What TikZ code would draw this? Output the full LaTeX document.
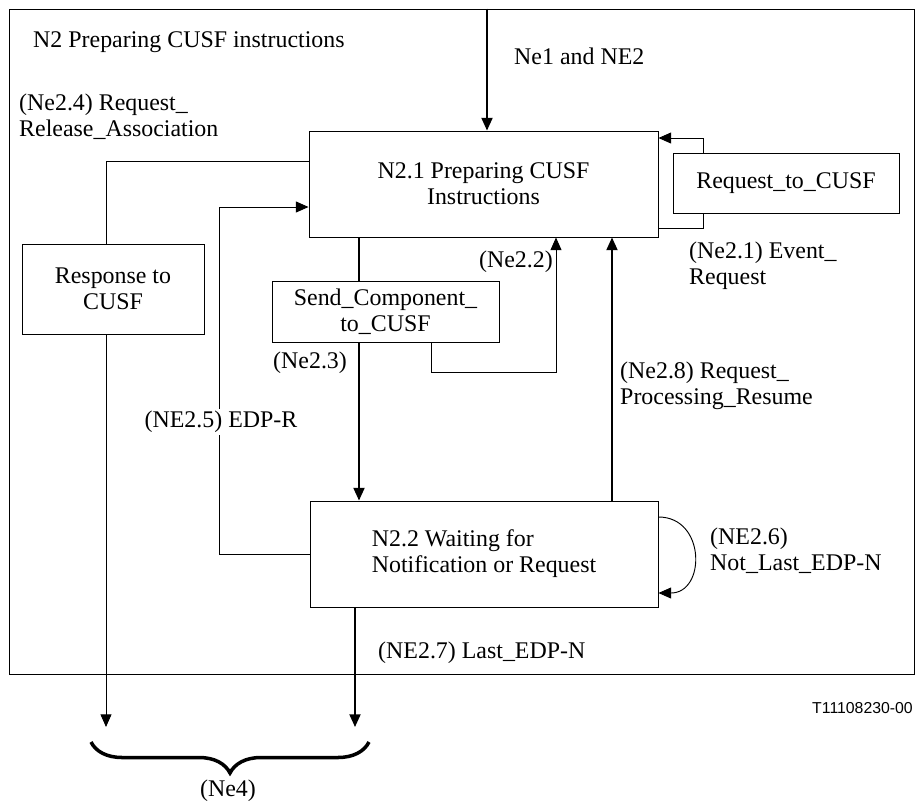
\documentclass[tikz,border=0pt]{standalone}
\usepackage{fontspec}
\setmainfont{Liberation Serif}
\setsansfont{Liberation Sans}
\usetikzlibrary{arrows.meta,decorations.pathreplacing}

\tikzset{
  box/.style={draw, line width=0.8pt, align=center, inner sep=0pt},
  lbl/.style={inner sep=0pt, align=left, anchor=west},
  thinline/.style={line width=0.8pt},
  thickline/.style={line width=1.6pt},
  tip/.style={-{Triangle[length=0.38cm,width=0.33cm]}}
}

\begin{document}
\begin{tikzpicture}[x=0.03cm, y=-0.03cm, font=\fontsize{20.4}{22.1}\selectfont]

\useasboundingbox (0,0) rectangle (918,805);

\node[box, minimum width=27.15cm, minimum height=19.95cm] (frame) at (461.5,341.5) {};

\node[box, minimum width=10.47cm, minimum height=3.18cm] (prep) at (483.5,184) {N2.1 Preparing CUSF\\Instructions};
\node[box, minimum width=6.78cm, minimum height=1.8cm] (reqc) at (786,183) {Request\_to\_CUSF};
\node[box, minimum width=5.46cm, minimum height=2.7cm] (resp) at (113,289) {Response to\\CUSF};
\node[box, minimum width=6.81cm, minimum height=1.83cm] (send) at (385.5,311.5) {Send\_Component\_\\to\_CUSF};
\node[box, minimum width=10.44cm, minimum height=3.18cm, align=left] (wait) at (484,554) {N2.2 Waiting for\\Notification or Request};

\coordinate (in) at (487,9);
\coordinate (r) at (106,161);
\coordinate (e5) at (219,207);
\coordinate (c) at (359,499);
\coordinate (s22) at (431,372);
\coordinate (n22) at (556,372);
\coordinate (n28) at (612,0);
\coordinate (ev) at (703,228);
\coordinate (eu) at (703,138);
\coordinate (outL) at (106,727);
\coordinate (outR) at (355,727);
\coordinate (bl) at (91,742);
\coordinate (br) at (369,742);

\draw[thickline, tip] (frame.north -| in) -- (prep.north -| in);
\draw[thinline] (resp.north -| r) |- (prep.west |- r);
\draw[thinline, tip] (resp.south -| r) -- (outL);
\draw[thinline, tip] (wait.west) -| (e5) -- (prep.west |- e5);
\draw[thickline] (prep.south -| c) -- (send.north -| c);
\draw[thickline, tip] (send.south -| c) -- (wait.north -| c);
\draw[thinline, tip] (send.south -| s22) |- (n22) -- (prep.south -| n22);
\draw[thickline, tip] (wait.north -| n28) -- (prep.south -| n28);
\draw[thinline] (prep.east |- ev) -- (ev) -- (reqc.south -| ev);
\draw[thinline, tip] (reqc.north -| eu) -- (eu) -- (prep.east |- eu);
\draw[thinline, tip] ([yshift=1.11cm]wait.east) to[out=0, in=0, looseness=1.6] ([yshift=-1.17cm]wait.east);
\draw[thickline, tip] (wait.south -| outR) -- (outR);
\draw[line width=3pt, decorate, decoration={brace, mirror, amplitude=0.93cm}] (bl) -- (br);

\node[lbl] (title) at (33,42) {N2 Preparing CUSF instructions};
\node[lbl] (ne1) at (514,56) {Ne1 and NE2};
\node[lbl] (ne24) at (19,116.5) {(Ne2.4) Request\_\\Release\_Association};
\node[lbl, anchor=east] (ne22) at (553,262) {(Ne2.2)};
\node[lbl] (ne23) at (273,363) {(Ne2.3)};
\node[lbl, anchor=center, fill=white, inner sep=2pt] (ne25) at (221,422) {(NE2.5) EDP-R};
\node[lbl] (ne28) at (620,386) {(Ne2.8) Request\_\\Processing\_Resume};
\node[lbl] (ne21) at (689,265.5) {(Ne2.1) Event\_\\Request};
\node[lbl] (ne26) at (710,550.5) {(NE2.6)\\Not\_Last\_EDP-N};
\node[lbl] (ne27) at (378,653) {(NE2.7) Last\_EDP-N};
\node[lbl, anchor=east, font=\fontsize{13.5}{16}\selectfont\sffamily] (code) at (913,708) {T11108230-00};
\node[lbl, anchor=center] (ne4) at (228,791) {(Ne4)};

\end{tikzpicture}
\end{document}
